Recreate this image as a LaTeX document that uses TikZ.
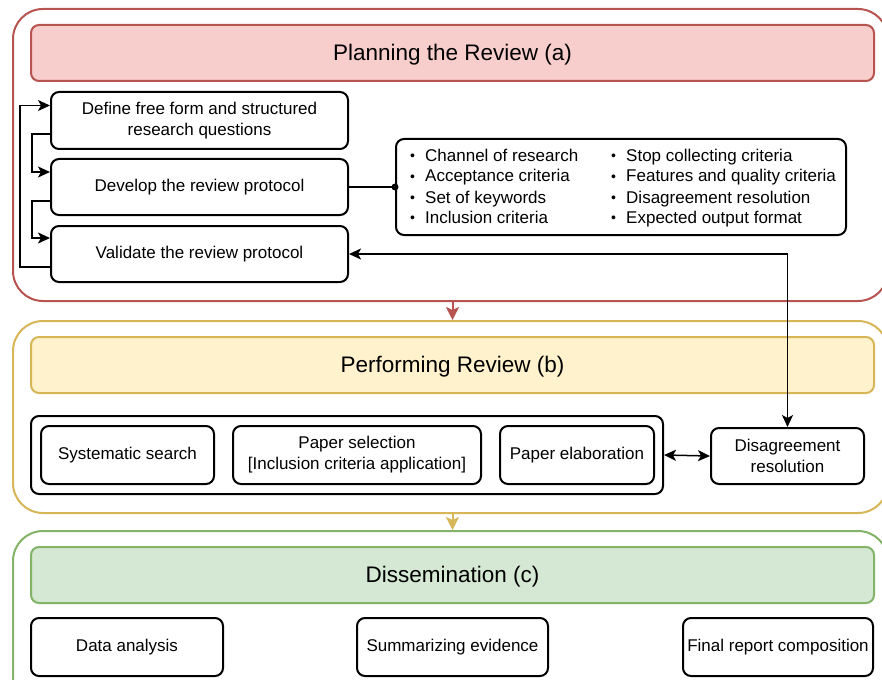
\documentclass[tikz,border=0pt]{standalone}
\usepackage{fontspec}
\setmainfont{Liberation Sans}
\usetikzlibrary{arrows.meta,calc}

\definecolor{redline}{HTML}{B85450}
\definecolor{redfill}{HTML}{F8CECC}
\definecolor{yelline}{HTML}{D6B656}
\definecolor{yelfill}{HTML}{FFF2CC}
\definecolor{grnline}{HTML}{82B366}
\definecolor{grnfill}{HTML}{D5E8D4}

\tikzset{
  phase/.style={draw=#1, line width=2pt, rounded corners=30pt, fill=white, anchor=north west, inner sep=0pt},
  phasetitle/.style={draw=#1line, fill=#1fill, line width=2pt, rounded corners=8pt,
    minimum width=843pt, minimum height=56pt, anchor=north west, inner sep=0pt,
    text depth=2pt, font=\fontsize{22.5}{26}\selectfont},
  stepbox/.style={draw, line width=2pt, rounded corners=8pt, anchor=north west, inner sep=0pt,
    align=center, font=\fontsize{17}{21}\selectfont},
  bul/.style={anchor=base west, inner sep=0pt, font=\fontsize{17}{21}\selectfont},
  conn/.style={line width=1.5pt},
  tip/.style={Stealth[length=12pt,width=11pt,inset=3pt]},
  arr/.style={conn, -{Stealth[length=12pt,width=11pt,inset=3pt]}},
  darr/.style={conn, {Stealth[length=12pt,width=11pt,inset=3pt]}-{Stealth[length=12pt,width=11pt,inset=3pt]}},
  phasearr/.style={line width=2pt, draw=#1, -{Stealth[length=13pt,width=13pt,inset=3pt]}, fill=#1},
}
\newcommand\bdot{\makebox[15pt][l]{\raisebox{0.5pt}{\fontsize{14}{14}\selectfont •}}}

\begin{document}
\begin{tikzpicture}[x=1pt,y=-1pt]
\clip (0,0) rectangle (882,679);
\fill[white] (0,0) rectangle (882,679);

% phase frames
\node[phase=redline, minimum width=875pt, minimum height=292pt] (planout) at (12,8) {};
\node[phase=yelline, minimum width=875pt, minimum height=192pt] (perfout) at (12,320) {};
\node[phase=grnline, minimum width=875pt, minimum height=190pt] (dissout) at (12,530) {};

% phase titles
\node[phasetitle=red] (plantitle) at (30,24) {Planning the Review (a)};
\node[phasetitle=yel] (perftitle) at (30,336) {Performing Review (b)};
\node[phasetitle=grn] (disstitle) at (30,546) {Dissemination (c)};

% planning steps
\node[stepbox, minimum width=297pt, minimum height=57pt] (define) at (50,91)
  {Define free form and structured\\research questions};
\node[stepbox, minimum width=297pt, minimum height=56pt] (develop) at (50,158)
  {Develop the review protocol};
\node[stepbox, minimum width=297pt, minimum height=56pt] (validate) at (50,225)
  {Validate the review protocol};

% protocol criteria
\node[stepbox, minimum width=450pt, minimum height=96pt] (crit) at (395,138) {};
\node[bul] (c1) at (410,161) {\bdot Channel of research};
\node[bul] (c2) at (410,182) {\bdot Acceptance criteria};
\node[bul] (c3) at (410,203) {\bdot Set of keywords};
\node[bul] (c4) at (410,223) {\bdot Inclusion criteria};
\node[bul] (c5) at (611,161) {\bdot Stop collecting criteria};
\node[bul] (c6) at (611,182) {\bdot Features and quality criteria};
\node[bul] (c7) at (611,203) {\bdot Disagreement resolution};
\node[bul] (c8) at (611,223) {\bdot Expected output format};

% performing steps
\node[stepbox, minimum width=632pt, minimum height=78pt] (group) at (30,415) {};
\node[stepbox, minimum width=173pt, minimum height=58pt] (search) at (40,425) {Systematic search};
\node[stepbox, minimum width=248pt, minimum height=58pt] (select) at (232,425)
  {Paper selection\\{}[Inclusion criteria application]};
\node[stepbox, minimum width=154pt, minimum height=58pt] (elab) at (499,425) {Paper elaboration};
\node[stepbox, minimum width=153pt, minimum height=56pt] (disag) at (710,427)
  {Disagreement\\resolution};

% dissemination steps
\node[stepbox, minimum width=192pt, minimum height=58pt] (data) at (30,617) {Data analysis};
\node[stepbox, minimum width=191pt, minimum height=58pt] (summ) at (356,617) {Summarizing evidence};
\node[stepbox, minimum width=190pt, minimum height=58pt] (final) at (682,617) {Final report composition};

% iteration loops of the planning phase
\draw[arr] ($(validate.west)+(0,13)$) -- ++(-30,0) |- ($(define.west)+(0,-15)$);
\draw[arr] ($(define.west)+(0,13.5)$) -- ++(-18,0) |- ($(develop.west)+(0,-15)$);
\draw[arr] ($(develop.west)+(0,14)$) -- ++(-18,0) |- ($(validate.west)+(0,-16)$);

% protocol contents
\draw[conn] (develop.east) -- (crit.west);
\fill (crit.west) circle (3.5pt);

% disagreement feedback
\draw[darr] (validate.east) -| (disag.north);
\draw[darr] (group.east) -- (disag.west);

% flow between phases
\draw[phasearr=redline] (planout.south -| plantitle.south) -- (perfout.north -| plantitle.south);
\draw[phasearr=yelline] (perfout.south -| perftitle.south) -- (dissout.north -| perftitle.south);
\end{tikzpicture}
\end{document}
